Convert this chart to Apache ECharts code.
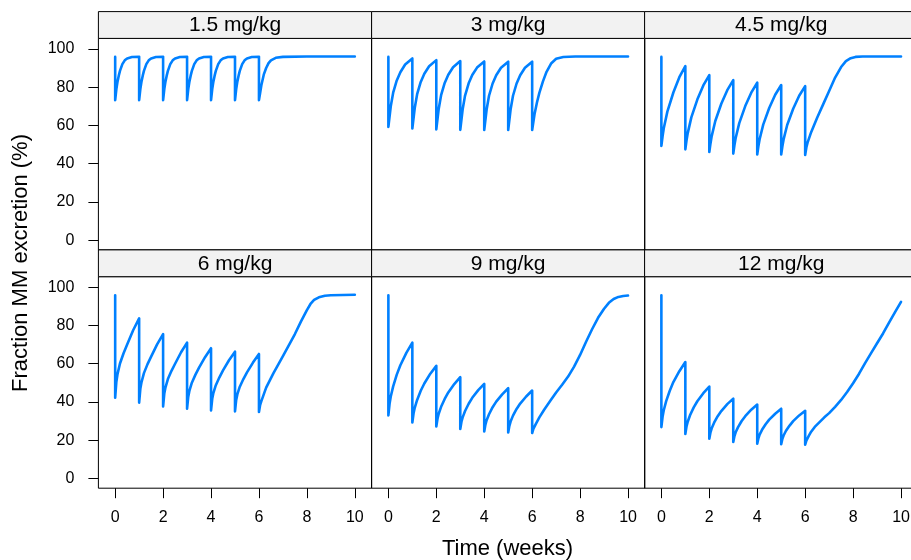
<!DOCTYPE html>
<html>
<head>
<meta charset="utf-8">
<title>Fraction MM excretion</title>
<script src="https://cdn.jsdelivr.net/npm/echarts@6/dist/echarts.min.js"></script>
<style>
  html, body { margin: 0; padding: 0; background: #fff; }
  #chart { width: 911px; height: 560px; }
</style>
</head>
<body>
<div id="chart"></div>
<script>
// panel titles (dose levels)
var doses = ['1.5 mg/kg', '3 mg/kg', '4.5 mg/kg', '6 mg/kg', '9 mg/kg', '12 mg/kg'];
var xTicks = [0, 2, 4, 6, 8, 10];
var yTicks = [0, 20, 40, 60, 80, 100];

// [time (weeks), fraction MM excretion (%)]
var d15 = [[0,95.8],[0,73.2],[0.05,79],[0.1,83],[0.15,86],[0.2,88.5],[0.3,92],[0.4,94],[0.5,95],[0.7,95.7],[1,95.9],
  [1,73.2],[1.05,79],[1.1,83],[1.15,86],[1.2,88.5],[1.3,92],[1.4,94],[1.5,95],[1.7,95.7],[2,95.9],
  [2,73.2],[2.05,79],[2.1,83],[2.15,86],[2.2,88.5],[2.3,92],[2.4,94],[2.5,95],[2.7,95.7],[3,95.9],
  [3,73.2],[3.05,79],[3.1,83],[3.15,86],[3.2,88.5],[3.3,92],[3.4,94],[3.5,95],[3.7,95.7],[4,95.9],
  [4,73.2],[4.05,79],[4.1,83],[4.15,86],[4.2,88.5],[4.3,92],[4.4,94],[4.5,95],[4.7,95.7],[5,95.9],
  [5,73.2],[5.05,79],[5.1,83],[5.15,86],[5.2,88.5],[5.3,92],[5.4,94],[5.5,95],[5.7,95.7],[6,95.9],
  [6,73.2],[6.05,77],[6.1,81],[6.2,86.5],[6.3,90],[6.4,92.5],[6.5,94],[6.7,95.3],[7,95.8],[8,96],[10,96]];

var d3 = [[0,95.8],[0,59.2],[0.1,70.0],[0.2,77.1],[0.35,83.5],[0.5,87.8],[0.7,91.8],[1,95.0],
  [1,58.4],[1.1,69.1],[1.2,76.3],[1.35,82.7],[1.5,87.0],[1.7,90.9],[2,94.1],
  [2,57.9],[2.1,68.6],[2.2,75.8],[2.35,82.2],[2.5,86.5],[2.7,90.4],[3,93.6],
  [3,57.7],[3.1,68.4],[3.2,75.6],[3.35,82.0],[3.5,86.3],[3.7,90.2],[4,93.4],
  [4,57.6],[4.1,68.3],[4.2,75.5],[4.35,81.9],[4.5,86.2],[4.7,90.1],[5,93.3],
  [5,57.6],[5.1,68.3],[5.2,75.5],[5.35,81.9],[5.5,86.2],[5.7,90.1],[6,93.3],
  [6,57.6],[6.1,66],[6.2,72],[6.3,77],[6.45,83],[6.6,88],[6.8,92.5],[7,94.8],[7.3,95.7],[7.8,96],[10,96]];

var d45 = [[0,95.8],[0,49.3],[0.05,54.3],[0.1,58.5],[0.25,67.2],[0.5,77.2],[0.75,85.2],[1,91.0],
  [1,47.5],[1.05,52.2],[1.1,56.0],[1.25,64.2],[1.5,73.5],[1.75,80.9],[2,86.3],
  [2,46.1],[2.05,50.6],[2.1,54.4],[2.25,62.3],[2.5,71.3],[2.75,78.4],[3,83.7],
  [3,45.3],[3.05,49.7],[3.1,53.4],[3.25,61.2],[3.5,70.1],[3.75,77.1],[4,82.3],
  [4,44.8],[4.05,49.2],[4.1,52.8],[4.25,60.4],[4.5,69.1],[4.75,76.0],[5,81.1],
  [5,44.8],[5.05,49.1],[5.1,52.7],[5.25,60.2],[5.5,68.7],[5.75,75.5],[6,80.5],
  [6,44.6],[6.05,48.5],[6.1,51],[6.25,56.5],[6.5,64],[6.75,71],[7,78],[7.25,85],[7.5,90.5],[7.7,93.6],[7.9,95.1],[8.1,95.8],[8.4,96],[10,96]];

var d6 = [[0,95.8],[0,42.3],[0.05,50.6],[0.1,54.7],[0.2,60.1],[0.35,65.5],[0.5,70.0],[0.75,77.5],[1,83.7],
  [1,39.7],[1.05,46.9],[1.1,50.4],[1.2,55.1],[1.35,59.8],[1.5,63.7],[1.75,70.1],[2,75.5],
  [2,37.7],[2.05,44.4],[2.1,47.7],[2.2,52.0],[2.35,56.3],[2.5,60.0],[2.75,66.0],[3,71.0],
  [3,36.5],[3.05,42.8],[3.1,46.0],[3.2,50.1],[3.35,54.3],[3.5,58.0],[3.75,63.4],[4,68.1],
  [4,35.6],[4.05,41.7],[4.1,44.8],[4.2,48.8],[4.35,52.9],[4.5,56.5],[4.75,61.8],[5,66.3],
  [5,35.1],[5.05,41.1],[5.1,44.1],[5.2,48.0],[5.35,52.0],[5.5,55.5],[5.75,60.6],[6,65.1],
  [6,34.8],[6.05,38.5],[6.1,40.5],[6.2,44],[6.3,47.5],[6.6,55],[7,64],[7.5,75.5],[7.75,82],[8,88],[8.15,91.2],[8.3,93.3],[8.5,94.7],[8.75,95.5],[9,95.8],[10,96]];

var d9 = [[0,95.8],[0,33.0],[0.05,39.1],[0.1,42.9],[0.2,48.2],[0.35,54.3],[0.5,59.2],[0.75,65.7],[1,71.0],
  [1,29.3],[1.05,34.0],[1.1,37.0],[1.2,41.1],[1.35,45.9],[1.5,49.7],[1.75,54.8],[2,58.9],
  [2,27.2],[2.05,31.3],[2.1,33.9],[2.2,37.5],[2.35,41.6],[2.5,45.0],[2.75,49.4],[3,53.0],
  [3,25.9],[3.05,29.7],[3.1,32.0],[3.2,35.3],[3.35,39.1],[3.5,42.2],[3.75,46.2],[4,49.5],
  [4,24.6],[4.05,28.2],[4.1,30.5],[4.2,33.6],[4.35,37.3],[4.5,40.2],[4.75,44.0],[5,47.2],
  [5,24.1],[5.05,27.6],[5.1,29.8],[5.2,32.9],[5.35,36.4],[5.5,39.2],[5.75,42.9],[6,46.0],
  [6,23.8],[6.05,26],[6.15,28.5],[6.3,32],[6.5,36],[6.75,40.5],[7,45],[7.25,49],[7.5,53.3],[7.75,58.5],[8,64.6],
  [8.25,71.5],[8.5,78],[8.75,84],[9,88.7],[9.2,91.8],[9.4,93.8],[9.6,94.9],[9.8,95.4],[10,95.6]];

var d12 = [[0,95.8],[0,26.9],[0.05,32.3],[0.1,35.7],[0.2,40.5],[0.35,45.9],[0.5,50.4],[0.75,56.1],[1,60.9],
  [1,23.3],[1.05,27.3],[1.1,29.7],[1.2,33.2],[1.35,37.2],[1.5,40.4],[1.75,44.6],[2,48.1],
  [2,20.8],[2.05,24.2],[2.1,26.3],[2.2,29.2],[2.35,32.6],[2.5,35.3],[2.75,38.9],[3,41.8],
  [3,19.1],[3.05,22.2],[3.1,24.2],[3.2,26.9],[3.35,30.1],[3.5,32.6],[3.75,36.0],[4,38.7],
  [4,18.2],[4.05,21.1],[4.1,23.0],[4.2,25.5],[4.35,28.4],[4.5,30.8],[4.75,33.9],[5,36.5],
  [5,18.0],[5.05,20.8],[5.1,22.5],[5.2,25.0],[5.35,27.7],[5.5,30.0],[5.75,33.0],[6,35.4],
  [6,17.7],[6.05,19.8],[6.15,22.3],[6.25,24.5],[6.4,27],[6.6,29.5],[6.8,32],[7,34.2],[7.25,37.5],[7.5,41.1],
  [7.75,45.2],[8,49.8],[8.25,54.8],[8.5,60.3],[8.75,65.5],[9,70.7],[9.25,75.8],[9.5,81.5],[9.75,87],[10,92.3]];

var panelData = [d15, d3, d45, d6, d9, d12];

// layout of the 3x2 lattice
var colLeft = [98.4, 371.6, 644.6];
var panelW = 273.2;
var stripTop = [11.6, 249.9];
var stripH = 26.8;
var panelTop = [38.4, 276.7];
var panelH = 211.5;
var xRange = [-0.7, 10.7];
var yRange = [-5.0, 105.45];
var FONT = '"Liberation Sans", Arial, Helvetica, sans-serif';
var BLUE = '#0080ff';

var grids = [], xAxes = [], yAxes = [], series = [], graphics = [];

panelData.forEach(function (data, i) {
    var col = i % 3, row = Math.floor(i / 3);
    grids.push({
        left: colLeft[col],
        top: panelTop[row],
        width: panelW,
        height: panelH,
        containLabel: false,
        outerBoundsMode: 'none',
        show: true,
        borderColor: '#000',
        borderWidth: 1,
        backgroundColor: 'transparent'
    });
    var bottomRow = row === 1;
    xAxes.push({
        type: 'value', gridIndex: i, min: xRange[0], max: xRange[1], position: 'bottom',
        axisLine: { show: false, onZero: false },
        axisTick: { show: bottomRow, length: 10, customValues: xTicks,
            lineStyle: { color: '#000', width: 1 } },
        axisLabel: { show: bottomRow, margin: 21.5, customValues: xTicks,
            color: '#000', fontSize: 16, fontFamily: FONT },
        splitLine: { show: false }
    });
    var leftCol = col === 0;
    yAxes.push({
        type: 'value', gridIndex: i, min: yRange[0], max: yRange[1], position: 'left',
        axisLine: { show: false, onZero: false },
        axisTick: { show: leftCol, length: 10, customValues: yTicks,
            lineStyle: { color: '#000', width: 1 } },
        axisLabel: { show: leftCol, margin: 24, customValues: yTicks,
            color: '#000', fontSize: 16, fontFamily: FONT },
        splitLine: { show: false }
    });
    series.push({
        type: 'line', xAxisIndex: i, yAxisIndex: i,
        data: data, showSymbol: false, symbol: 'none',
        lineStyle: { color: BLUE, width: 2.6, cap: 'round', join: 'round' }
    });

    // strip with the dose label
    graphics.push({
        type: 'rect', z: 10,
        shape: { x: colLeft[col], y: stripTop[row], width: panelW, height: stripH },
        style: { fill: '#f2f2f2', stroke: '#000', lineWidth: 1 }
    });
    graphics.push({
        type: 'text', z: 11,
        x: colLeft[col] + panelW / 2, y: stripTop[row] + stripH / 2 + 0.5,
        style: { text: doses[i], font: '21px ' + FONT, fill: '#000',
            align: 'center', verticalAlign: 'middle', textAlign: 'center', textVerticalAlign: 'middle' }
    });
});

// axis titles
graphics.push({
    type: 'text', z: 11, x: 507.5, y: 549,
    style: { text: 'Time (weeks)', font: '22px ' + FONT, fill: '#000',
        align: 'center', verticalAlign: 'middle', textAlign: 'center', textVerticalAlign: 'middle' }
});
graphics.push({
    type: 'text', z: 11, x: 21, y: 263, rotation: Math.PI / 2,
    style: { text: 'Fraction MM excretion (%)', font: '22px ' + FONT, fill: '#000',
        align: 'center', verticalAlign: 'middle', textAlign: 'center', textVerticalAlign: 'middle' }
});

var chart = echarts.init(document.getElementById('chart'), null, { renderer: 'canvas' });
chart.setOption({
    backgroundColor: '#fff',
    animation: false,
    grid: grids,
    xAxis: xAxes,
    yAxis: yAxes,
    series: series,
    graphic: { elements: graphics }
});
</script>
</body>
</html>
